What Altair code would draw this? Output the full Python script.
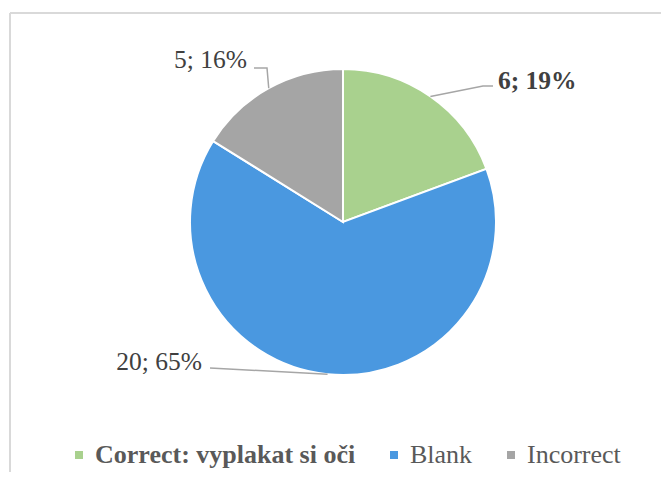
import math
import altair as alt
import pandas as pd

# ---- data ----
categories = ["Correct: vyplakat si oči", "Blank", "Incorrect"]
counts = [6, 20, 5]
colors = ["#A9D18E", "#4A98E0", "#A5A5A5"]

# ---- layout (view units, 1 unit = 1 px, origin at pie centre, y up) ----
W, H = 651, 459
CX, CY = 333, 209
R = 153
leader_bends = {
    "Correct: vyplakat si oči": [(140, 136), (150, 136)],
    "Blank": [(-133, -146)],
    "Incorrect": [(-76, 154), (-89, 154)],
}
label_anchor = {
    "Correct: vyplakat si oči": (155, 133.5),
    "Blank": (-141, -148),
    "Incorrect": (-96, 154),
}

total = sum(counts)
rows, line_rows, lab_rows = [], [], []
cum = 0
for i, (cat, c) in enumerate(zip(categories, counts)):
    mid = (cum + c / 2) / total * 2 * math.pi
    cum += c
    rows.append({"category": cat, "count": c, "idx": i, "cx": 0, "cy": 0})
    pts = [(R * math.sin(mid), R * math.cos(mid))] + leader_bends[cat]
    for j, (px, py) in enumerate(pts):
        line_rows.append({"category": cat, "k": j, "lx": px, "ly": py})
    ax, ay = label_anchor[cat]
    pct = round(100 * c / total)
    lab_rows.append({"category": cat, "tx": ax, "ty": ay,
                     "label": f"{c}; {pct}%", "bold": i == 0})

pie_df = pd.DataFrame(rows)
line_df = pd.DataFrame(line_rows)
lab_df = pd.DataFrame(lab_rows)

xs = alt.Scale(domain=[-CX, W - CX], zero=False, nice=False)
ys = alt.Scale(domain=[CY - H, CY], zero=False, nice=False)

FONT = "Liberation Serif"

pie = alt.Chart(pie_df).mark_arc(outerRadius=R, stroke="white", strokeWidth=2).encode(
    theta=alt.Theta("count:Q", stack=True),
    order=alt.Order("idx:Q"),
    x=alt.X("cx:Q", scale=xs, axis=None),
    y=alt.Y("cy:Q", scale=ys, axis=None),
    color=alt.Color(
        "category:N",
        sort=categories,
        scale=alt.Scale(domain=categories, range=colors),
        legend=alt.Legend(
            title=None,
            orient="none",
            direction="horizontal",
            legendX=56,
            legendY=429,
            padding=0,
            symbolType="square",
            symbolSize=64,
            symbolStrokeWidth=0,
            labelFont=FONT,
            labelFontSize=26,
            labelColor="#595959",
            labelLimit=500,
            labelOffset=3,
            columnPadding=25,
            labelFontWeight={"expr": "datum.label == 'Correct: vyplakat si oči' ? 'bold' : 'normal'"},
        ),
    ),
)

leaders = alt.Chart(line_df).mark_line(color="#A6A6A6", strokeWidth=1.5).encode(
    x=alt.X("lx:Q", scale=xs, axis=None),
    y=alt.Y("ly:Q", scale=ys, axis=None),
    detail="category:N",
    order="k:Q",
)

lab_bold = alt.Chart(lab_df).transform_filter("datum.bold").mark_text(
    align="left", baseline="alphabetic", font=FONT, fontSize=25.5,
    fontWeight="bold", color="#404040"
).encode(
    x=alt.X("tx:Q", scale=xs, axis=None),
    y=alt.Y("ty:Q", scale=ys, axis=None),
    text="label:N",
)

lab_norm = alt.Chart(lab_df).transform_filter("!datum.bold").mark_text(
    align="right", baseline="alphabetic", font=FONT, fontSize=25.5,
    color="#404040"
).encode(
    x=alt.X("tx:Q", scale=xs, axis=None),
    y=alt.Y("ty:Q", scale=ys, axis=None),
    text="label:N",
)

frame_df = pd.DataFrame({"f": [0]})
frame_top = alt.Chart(frame_df).mark_rule(color="#D9D9D9", strokeWidth=2).encode(
    x=alt.value(0), x2=alt.value(W + 10), y=alt.value(0)
)
frame_left = alt.Chart(frame_df).mark_rule(color="#D9D9D9", strokeWidth=2).encode(
    x=alt.value(0), y=alt.value(0), y2=alt.value(H + 10)
)

chart = alt.layer(frame_top, frame_left, pie, leaders, lab_bold, lab_norm).properties(
    width=W,
    height=H,
    autosize=alt.AutoSizeParams(type="none"),
    padding={"left": 2, "top": 5, "right": 0, "bottom": 0},
    background="white",
).configure_view(stroke=None)

chart.save("out.html", embed_options={"renderer": "svg", "actions": False})
